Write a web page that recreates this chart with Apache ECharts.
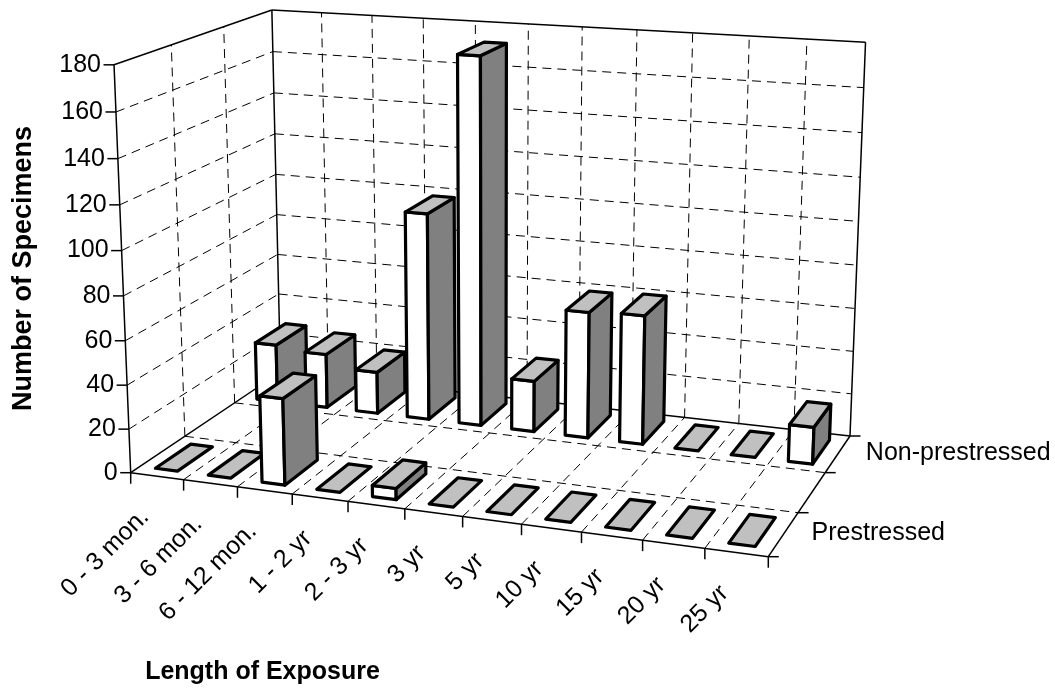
<!DOCTYPE html>
<html><head><meta charset="utf-8">
<style>html,body{margin:0;padding:0;background:#fff}#c{width:1055px;height:688px}</style>
<script src="https://cdn.jsdelivr.net/npm/echarts@6/dist/echarts.min.js"></script>
</head><body><div id="c"></div>
<script>
// ---- data ----
const categories = ['0 - 3 mon.','3 - 6 mon.','6 - 12 mon.','1 - 2 yr','2 - 3 yr','3 yr','5 yr','10 yr','15 yr','20 yr','25 yr'];
const depthLabels = ['Prestressed','','Non-prestressed'];
const prestressed = [0,0,39,0,5,0,0,0,0,0,0];
const nonPrestressed = [28,26,20,98,172,24,59,60,0,0,17];
const valueTicks = [0,20,40,60,80,100,120,140,160,180];
const VMAX = 180;

// ---- view (perspective of the box, fitted from its corners) ----
const view = {
  floor:{p00:[130.7,472.7],p10:[768.3,556.7],p11:[850,436],p01:[280.5,372]},
  top:[[0,0,113.3,64],[0,1,272.7,9],[1,1,865.3,44]]
};
const FONT='"Liberation Sans",Arial,sans-serif', LABEL=25;
function solve3(A,b){
  const M=A.map((r,i)=>r.concat(b[i]));
  for(let i=0;i<3;i++){let p=i;for(let k=i+1;k<3;k++)if(Math.abs(M[k][i])>Math.abs(M[p][i]))p=k;
    [M[i],M[p]]=[M[p],M[i]];
    for(let k=0;k<3;k++)if(k!==i){const f=M[k][i]/M[i][i];for(let j=i;j<4;j++)M[k][j]-=f*M[i][j];}}
  return [M[0][3]/M[0][0],M[1][3]/M[1][1],M[2][3]/M[2][2]];
}
const project=(function(){
  const {p00,p10,p11,p01}=view.floor;
  const sx=p00[0]-p10[0]+p11[0]-p01[0], sy=p00[1]-p10[1]+p11[1]-p01[1];
  const dx1=p10[0]-p11[0],dx2=p01[0]-p11[0],dy1=p10[1]-p11[1],dy2=p01[1]-p11[1];
  const den=dx1*dy2-dx2*dy1, g=(sx*dy2-dx2*sy)/den, h=(dx1*sy-sx*dy1)/den;
  const a=p10[0]-p00[0]+g*p10[0], b=p01[0]-p00[0]+h*p01[0], c=p00[0];
  const d=p10[1]-p00[1]+g*p10[1], e=p01[1]-p00[1]+h*p01[1], f=p00[1];
  const rows=[],rhs=[];
  view.top.forEach(([u,v,X,Y])=>{
    const D=1+g*u+h*v;
    rows.push([1,0,-X]);rhs.push(X*D-(a*u+b*v+c));
    rows.push([0,1,-Y]);rhs.push(Y*D-(d*u+e*v+f));
  });
  const N=[[0,0,0],[0,0,0],[0,0,0]],B=[0,0,0];
  rows.forEach((r,k)=>{for(let i=0;i<3;i++){B[i]+=r[i]*rhs[k];for(let j=0;j<3;j++)N[i][j]+=r[i]*r[j];}});
  const [a3,b3,i3]=solve3(N,B);
  return function(u,v,w){
    const D=1+g*u+h*v+i3*w;
    return [(a*u+b*v+c+a3*w)/D,(d*u+e*v+f+b3*w)/D];
  };
})();
const solid={stroke:'#000',lineWidth:1.5,fill:null};
const dash={stroke:'#000',lineWidth:1,lineDash:[9,6],fill:null};
const seg=(p,q,style)=>({type:'line',silent:true,shape:{x1:p[0],y1:p[1],x2:q[0],y2:q[1]},style});
const txt=(x,y,text,align,rot,size,weight)=>({type:'text',silent:true,x,y,rotation:rot||0,
  style:{text,align,verticalAlign:'middle',fill:'#000',font:(weight||'normal')+' '+(size||LABEL)+'px '+FONT}});

// normalised position through the library's own scales
function toNorm(api,params,cat,val){
  const pt=api.coord([cat,val]), cs=params.coordSys;
  return [(pt[0]-cs.x)/cs.width,(cs.y+cs.height-pt[1])/cs.height];
}
function renderFrame(params,api){
  const kids=[], nD=depthLabels.length, nC=categories.length;
  // dashed grid
  valueTicks.slice(1,-1).forEach(t=>{
    const w=toNorm(api,params,0,t)[1];
    kids.push(seg(project(0,0,w),project(0,1,w),dash),seg(project(0,1,w),project(1,1,w),dash));
  });
  for(let k=1;k<nC;k++){const u=k/nC;
    kids.push(seg(project(u,0,0),project(u,1,0),dash),seg(project(u,1,0),project(u,1,1),dash));}
  for(let k=1;k<nD;k++){const v=k/nD;
    kids.push(seg(project(0,v,0),project(1,v,0),dash),seg(project(0,v,0),project(0,v,1),dash));}
  // solid box edges
  const E=[[[0,0,0],[1,0,0]],[[1,0,0],[1,1,0]],[[1,1,0],[0,1,0]],[[0,1,0],[0,0,0]],
           [[0,0,0],[0,0,1]],[[0,1,0],[0,1,1]],[[1,1,0],[1,1,1]],
           [[0,0,1],[0,1,1]],[[0,1,1],[1,1,1]]];
  E.forEach(([p,q])=>kids.push(seg(project(...p),project(...q),solid)));
  // value ticks and labels
  valueTicks.forEach(t=>{
    const w=toNorm(api,params,0,t)[1], p=project(0,0,w);
    kids.push(seg(p,[p[0]-10.5,p[1]],solid), txt(p[0]-13,p[1],String(t),'right'));
  });
  // category ticks and labels
  for(let k=0;k<=nC;k++){const p=project(k/nC,0,0);kids.push(seg(p,[p[0],p[1]+11],solid));}
  categories.forEach((c,i)=>{
    const p=project(toNorm(api,params,i,0)[0],0,0);
    kids.push(txt(p[0]-12,p[1]+37,c,'right',Math.PI/4));
  });
  // depth ticks and labels
  for(let k=0;k<=nD;k++){const p=project(1,k/nD,0);kids.push(seg(p,[p[0]+10.5,p[1]],solid));}
  depthLabels.forEach((d,i)=>{ if(!d)return;
    const p=project(1,(i+.5)/nD,0);
    kids.push(txt(p[0]+28,p[1]-1,d,'left'));
  });
  return {type:'group',children:kids};
}
const BAR_U=0.21, BAR_V=0.33;
function renderBar(depthIndex){
  return function(params,api){
    const cat=api.value(0), val=api.value(1), nD=depthLabels.length;
    const [uc,w]=toNorm(api,params,cat,val);
    const slot=api.size([1,0])[0]/params.coordSys.width;
    const u0=uc-BAR_U*slot,u1=uc+BAR_U*slot,v0=(depthIndex+.5-BAR_V)/nD,v1=(depthIndex+.5+BAR_V)/nD;
    const face=(pts,fill)=>({type:'polygon',shape:{points:pts},
      style:{fill,stroke:'#000',lineWidth:3.2,lineJoin:'round'}});
    const kids=[];
    if(val>0){
      kids.push(face([project(u0,v0,0),project(u1,v0,0),project(u1,v0,w),project(u0,v0,w)],'#ffffff'));
      kids.push(face([project(u1,v0,0),project(u1,v1,0),project(u1,v1,w),project(u1,v0,w)],'#808080'));
    }
    kids.push(face([project(u0,v0,w),project(u1,v0,w),project(u1,v1,w),project(u0,v1,w)],'#c0c0c0'));
    return {type:'group',children:kids};
  };
}
const chart=echarts.init(document.getElementById('c'),null,{renderer:'canvas'});
const pairs=a=>a.map((v,i)=>[i,v]);
chart.setOption({
  animation:false,backgroundColor:'#fff',
  grid:{left:0,right:0,top:0,bottom:0},
  xAxis:{type:'category',data:categories,show:false},
  yAxis:{type:'value',min:0,max:VMAX,interval:20,show:false},
  graphic:[
    {type:'text',silent:true,x:262.5,y:672,style:{text:'Length of Exposure',align:'center',verticalAlign:'middle',fill:'#000',font:'bold 25px '+FONT}},
    {type:'text',silent:true,x:23.5,y:268.5,rotation:Math.PI/2,style:{text:'Number of Specimens',align:'center',verticalAlign:'middle',fill:'#000',font:'bold 27px '+FONT}}
  ],
  series:[
    {type:'custom',name:'frame',silent:true,clip:false,data:[[0,0]],renderItem:renderFrame,z:1},
    {type:'custom',name:depthLabels[2],silent:true,clip:false,data:pairs(nonPrestressed),renderItem:renderBar(2),z:2},
    {type:'custom',name:depthLabels[0],silent:true,clip:false,data:pairs(prestressed),renderItem:renderBar(0),z:3}
  ]
});
</script></body></html>
